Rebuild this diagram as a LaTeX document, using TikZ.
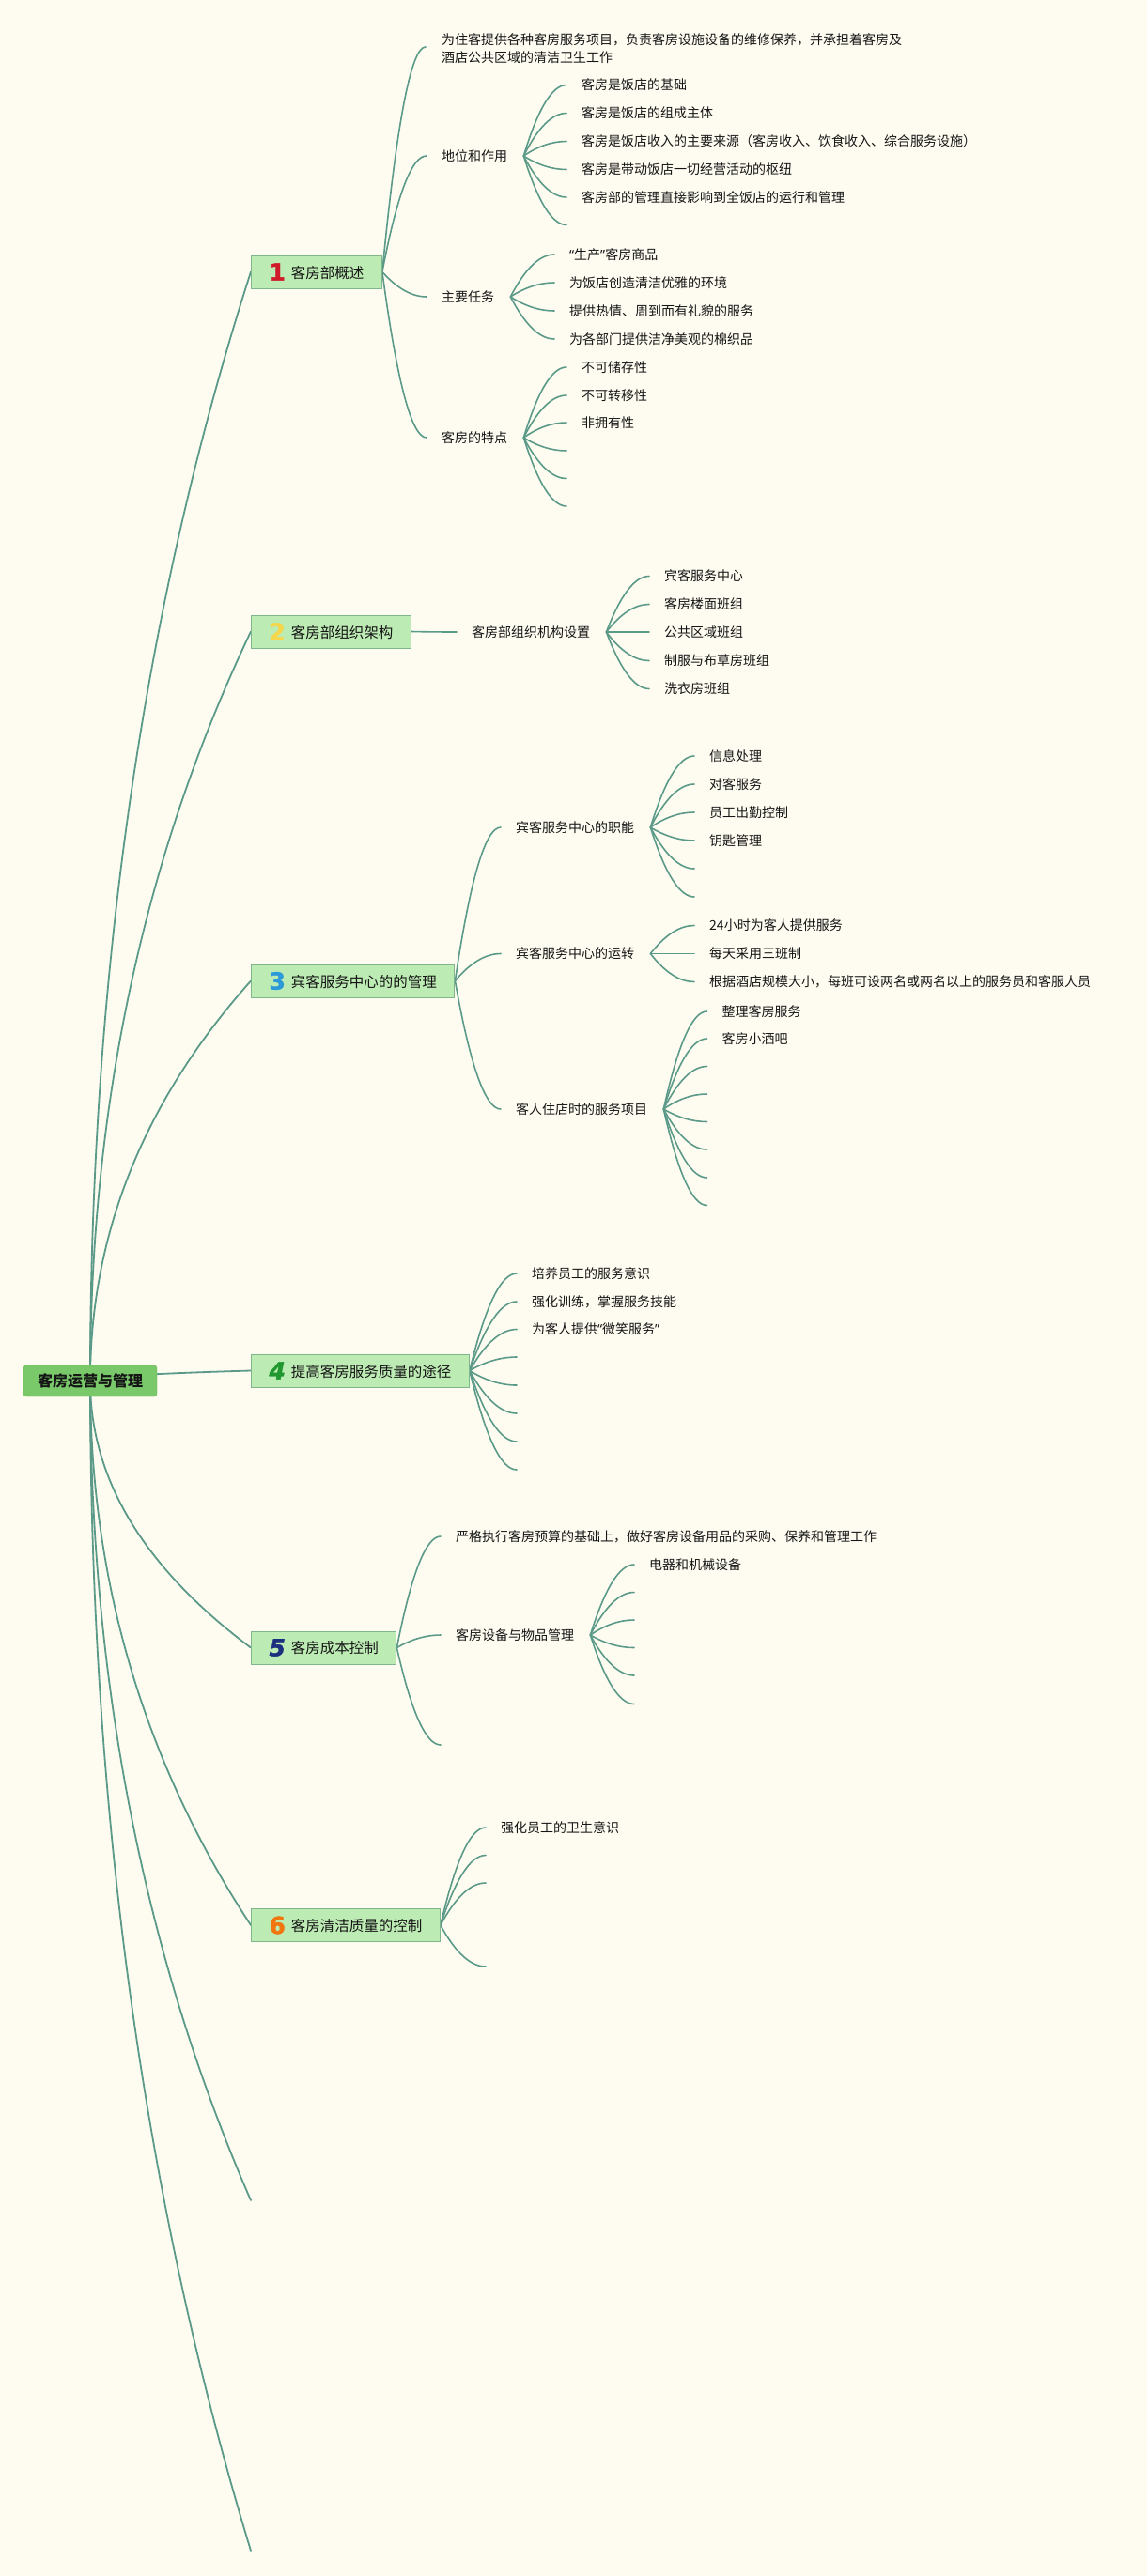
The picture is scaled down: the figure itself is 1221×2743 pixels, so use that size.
\documentclass[tikz,border=0pt]{standalone}
\usepackage{fontspec}
\setmainfont{Noto Sans CJK SC}
\newfontfamily\digf{DejaVu Sans}[FakeBold=1.5]
\newfontfamily\latf{Noto Sans}
\usetikzlibrary{calc}
\definecolor{bgc}{HTML}{FEFCF1}
\definecolor{brc}{HTML}{5B9A88}
\definecolor{lfill}{HTML}{BDEBB4}
\definecolor{ldraw}{HTML}{7FB68C}
\definecolor{rfill}{HTML}{79C96A}
\definecolor{rdraw}{HTML}{6CBB5E}
\definecolor{txc}{HTML}{151515}
\definecolor{dA}{HTML}{D01C2A}
\definecolor{dB}{HTML}{F6D64A}
\definecolor{dC}{HTML}{2C9AD9}
\definecolor{dD}{HTML}{21982F}
\definecolor{dE}{HTML}{1B2F7E}
\definecolor{dF}{HTML}{F2760F}
\pgfdeclarelayer{bg}
\pgfsetlayers{bg,main}
\newcommand\fsz[1]{\fontsize{#1}{#1}\selectfont}
\newcommand\dg[2]{\raisebox{-2.5pt}{\digf\bfseries\fontsize{25}{25}\selectfont\color{#1}#2}}
\newcommand\oq{{\latf “}}
\newcommand\cq{{\latf ”}}
\newcommand\subbr[2]{\draw[brl] let \p1=(#1), \p2=(#2) in (\p1) .. controls ({\x1+(\x2-\x1)/3},{\y1+2*(\y2-\y1)/3}) and ({\x2-(\x2-\x1)/3},{\y2}) .. (\p2);}
\newcommand\kid[2]{\subbr{#1}{$(#2.west)+(-16,0)$}}
\newcommand\rootbr[2]{\draw[brl,line width=1.8pt] let \p1=(#1), \p2=(#2) in (\p1) .. controls ({\x1},{\y1+0.367*(\y2-\y1)}) and ({\x2-2*(\x2-\x1)/3},{\y2-0.3*(\y2-\y1)}) .. (\p2);}
\tikzset{
  brl/.style={draw=brc, line width=1.6pt, line cap=round},
  lone/.style={draw=ldraw, fill=lfill, line width=1pt, minimum height=35, inner xsep=19, inner ysep=0, anchor=west, font=\fsz{15.5}, text=txc},
  rootbox/.style={draw=rdraw, fill=rfill, rounded corners=3, minimum width=142, minimum height=33, inner sep=0, font=\fsz{16}\bfseries, text=txc},
  tx/.style={anchor=west, inner sep=0pt, font=\fsz{14}, text=txc}
}
\begin{document}
\begin{tikzpicture}[x=1pt,y=-1pt]
\useasboundingbox (0,0) rectangle (1221,2743);
\begin{pgfonlayer}{bg}
\fill[bgc] (0,0) rectangle (1221,2743);
\end{pgfonlayer}
% root
\node[rootbox] (r) at (96,1470.5) {客房运营与管理};
% level 1
\node[lone] (n1) at (267,289.5) {\dg{dA}{1}\hspace{6pt}客房部概述};
\node[lone] (n2) at (267,672.5) {\dg{dB}{2}\hspace{6pt}客房部组织架构};
\node[lone] (n3) at (267,1044.5) {\dg{dC}{3}\hspace{6pt}宾客服务中心的的管理};
\node[lone] (n4) at (267,1459.5) {\dg{dD}{\itshape 4}\hspace{6pt}提高客房服务质量的途径};
\node[lone] (n5) at (267,1754.5) {\dg{dE}{\itshape 5}\hspace{6pt}客房成本控制};
\node[lone] (n6) at (267,2050) {\dg{dF}{6}\hspace{6pt}客房清洁质量的控制};
\coordinate (r7) at (267,2343);
\coordinate (r8) at (267,2716);
% node 1 children
\node[tx, align=left, font=\fontsize{14}{19}\selectfont] (a1) at (470,51.5) {为住客提供各种客房服务项目，负责客房设施设备的维修保养，并承担着客房及\\酒店公共区域的清洁卫生工作};
\node[tx] (a2) at (470,166) {地位和作用};
\node[tx] (a3) at (470,316) {主要任务};
\node[tx] (a4) at (470,466) {客房的特点};
\node[tx] (a2k1) at (619,90.5) {客房是饭店的基础};
\node[tx] (a2k2) at (619,120.5) {客房是饭店的组成主体};
\node[tx] (a2k3) at (619,150.5) {客房是饭店收入的主要来源（客房收入、饮食收入、综合服务设施）};
\node[tx] (a2k4) at (619,180.5) {客房是带动饭店一切经营活动的枢纽};
\node[tx] (a2k5) at (619,210) {客房部的管理直接影响到全饭店的运行和管理};
\coordinate (a2e6) at (603,239.5);
\node[tx] (a3k1) at (606,271) {\oq 生产\cq 客房商品};
\node[tx] (a3k2) at (606,301) {为饭店创造清洁优雅的环境};
\node[tx] (a3k3) at (606,331) {提供热情、周到而有礼貌的服务};
\node[tx] (a3k4) at (606,361) {为各部门提供洁净美观的棉织品};
\node[tx] (a4k1) at (619,391) {不可储存性};
\node[tx] (a4k2) at (619,421) {不可转移性};
\node[tx] (a4k3) at (619,450) {非拥有性};
\coordinate (a4e4) at (603,480);
\coordinate (a4e5) at (603,509.5);
\coordinate (a4e6) at (603,539);
% node 2 children
\node[tx] (b1) at (502,673) {客房部组织机构设置};
\node[tx] (b1k1) at (707,613.5) {宾客服务中心};
\node[tx] (b1k2) at (707,643.5) {客房楼面班组};
\node[tx] (b1k3) at (707,673) {公共区域班组};
\node[tx] (b1k4) at (707,703.5) {制服与布草房班组};
\node[tx] (b1k5) at (707,733.5) {洗衣房班组};
% node 3 children
\node[tx] (c1) at (549,881) {宾客服务中心的职能};
\node[tx] (c2) at (549,1015.5) {宾客服务中心的运转};
\node[tx] (c3) at (549,1181) {客人住店时的服务项目};
\node[tx] (c1k1) at (755,805) {信息处理};
\node[tx] (c1k2) at (755,835) {对客服务};
\node[tx] (c1k3) at (755,865) {员工出勤控制};
\node[tx] (c1k4) at (755,895) {钥匙管理};
\coordinate (c1e5) at (739,925);
\coordinate (c1e6) at (739,955);
\node[tx] (c2k1) at (755,985.5) {24小时为客人提供服务};
\node[tx] (c2k2) at (755,1015.5) {每天采用三班制};
\node[tx] (c2k3) at (755,1045.5) {根据酒店规模大小，每班可设两名或两名以上的服务员和客服人员};
\node[tx] (c3k1) at (768.5,1077) {整理客房服务};
\node[tx] (c3k2) at (768.5,1106) {客房小酒吧};
\coordinate (c3e3) at (752.5,1135.5);
\coordinate (c3e4) at (752.5,1165);
\coordinate (c3e5) at (752.5,1194.5);
\coordinate (c3e6) at (752.5,1224);
\coordinate (c3e7) at (752.5,1254);
\coordinate (c3e8) at (752.5,1283.5);
% node 4 children
\node[tx] (d1) at (566,1356) {培养员工的服务意识};
\node[tx] (d2) at (566,1386) {强化训练，掌握服务技能};
\node[tx] (d3) at (566,1415.5) {为客人提供\oq 微笑服务\cq};
\coordinate (d4) at (550,1445);
\coordinate (d5) at (550,1475);
\coordinate (d6) at (550,1505);
\coordinate (d7) at (550,1535);
\coordinate (d8) at (550,1565);
% node 5 children
\node[tx] (f1) at (485,1636) {严格执行客房预算的基础上，做好客房设备用品的采购、保养和管理工作};
\node[tx] (f2) at (485,1741) {客房设备与物品管理};
\coordinate (f3) at (469,1858);
\node[tx] (f2k1) at (691,1666) {电器和机械设备};
\coordinate (f2e2) at (675,1695.5);
\coordinate (f2e3) at (675,1725);
\coordinate (f2e4) at (675,1754.5);
\coordinate (f2e5) at (675,1784);
\coordinate (f2e6) at (675,1814.5);
% node 6 children
\node[tx] (g1) at (533,1946) {强化员工的卫生意识};
\coordinate (g2) at (517,1975.5);
\coordinate (g3) at (517,2005);
\coordinate (g4) at (517,2094);
% start coordinates for sub-branches
\coordinate (sa2) at ($(a2.east)+(17,0)$);
\coordinate (sa3) at ($(a3.east)+(17,0)$);
\coordinate (sa4) at ($(a4.east)+(17,0)$);
\coordinate (sb1) at ($(b1.east)+(17,0)$);
\coordinate (sc1) at ($(c1.east)+(17,0)$);
\coordinate (sc2) at ($(c2.east)+(17,0)$);
\coordinate (sc3) at ($(c3.east)+(17,0)$);
\coordinate (sf2) at ($(f2.east)+(17,0)$);
\begin{pgfonlayer}{bg}
% root branches
\rootbr{r.center}{n1.west}
\rootbr{r.center}{n2.west}
\rootbr{r.center}{n3.west}
\rootbr{r.center}{n4.west}
\rootbr{r.center}{n5.west}
\rootbr{r.center}{n6.west}
\rootbr{r.center}{r7}
\rootbr{r.center}{r8}
% node 1
\subbr{n1.east}{$(a1.west)+(-17,-1.5)$}
\kid{n1.east}{a2}
\kid{n1.east}{a3}
\kid{n1.east}{a4}
\kid{sa2}{a2k1}
\kid{sa2}{a2k2}
\kid{sa2}{a2k3}
\kid{sa2}{a2k4}
\kid{sa2}{a2k5}
\subbr{sa2}{a2e6}
\kid{sa3}{a3k1}
\kid{sa3}{a3k2}
\kid{sa3}{a3k3}
\kid{sa3}{a3k4}
\kid{sa4}{a4k1}
\kid{sa4}{a4k2}
\kid{sa4}{a4k3}
\subbr{sa4}{a4e4}
\subbr{sa4}{a4e5}
\subbr{sa4}{a4e6}
% node 2
\kid{n2.east}{b1}
\kid{sb1}{b1k1}
\kid{sb1}{b1k2}
\kid{sb1}{b1k3}
\kid{sb1}{b1k4}
\kid{sb1}{b1k5}
% node 3
\kid{n3.east}{c1}
\kid{n3.east}{c2}
\kid{n3.east}{c3}
\kid{sc1}{c1k1}
\kid{sc1}{c1k2}
\kid{sc1}{c1k3}
\kid{sc1}{c1k4}
\subbr{sc1}{c1e5}
\subbr{sc1}{c1e6}
\kid{sc2}{c2k1}
\kid{sc2}{c2k2}
\kid{sc2}{c2k3}
\kid{sc3}{c3k1}
\kid{sc3}{c3k2}
\subbr{sc3}{c3e3}
\subbr{sc3}{c3e4}
\subbr{sc3}{c3e5}
\subbr{sc3}{c3e6}
\subbr{sc3}{c3e7}
\subbr{sc3}{c3e8}
% node 4
\kid{n4.east}{d1}
\kid{n4.east}{d2}
\kid{n4.east}{d3}
\subbr{n4.east}{d4}
\subbr{n4.east}{d5}
\subbr{n4.east}{d6}
\subbr{n4.east}{d7}
\subbr{n4.east}{d8}
% node 5
\kid{n5.east}{f1}
\kid{n5.east}{f2}
\subbr{n5.east}{f3}
\kid{sf2}{f2k1}
\subbr{sf2}{f2e2}
\subbr{sf2}{f2e3}
\subbr{sf2}{f2e4}
\subbr{sf2}{f2e5}
\subbr{sf2}{f2e6}
% node 6
\kid{n6.east}{g1}
\subbr{n6.east}{g2}
\subbr{n6.east}{g3}
\subbr{n6.east}{g4}
\end{pgfonlayer}
\end{tikzpicture}
\end{document}
